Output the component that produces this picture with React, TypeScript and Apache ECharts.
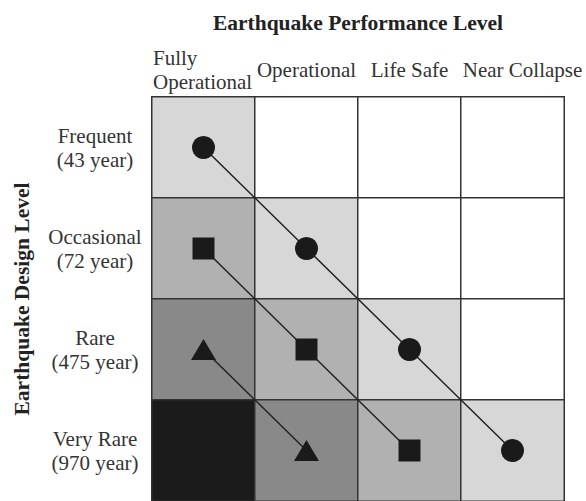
import React, { useEffect, useRef } from "react";
import * as echarts from "echarts";

const performanceLevels = ["Fully\nOperational", "Operational", "Life Safe", "Near Collapse"];
const designLevels = ["Frequent\n(43 year)", "Occasional\n(72 year)", "Rare\n(475 year)", "Very Rare\n(970 year)"];
const titleText = "Earthquake Performance Level";
const yNameText = "Earthquake Design Level";

// shade index for each cell: rows = design levels, columns = performance levels
const cellShades = [
  [1, 0, 0, 0],
  [2, 1, 0, 0],
  [3, 2, 1, 0],
  [4, 3, 2, 1],
];
const shadeColors = ["#ffffff", "#d7d7d7", "#b1b1b1", "#898989", "#1b1b1b"];

// [performance index, design index]
const circlePath = [[0, 0], [1, 1], [2, 2], [3, 3]];
const squarePath = [[0, 1], [1, 2], [2, 3]];
const trianglePath = [[0, 2], [1, 3]];

const FONT = "'Liberation Serif', 'Times New Roman', serif";

export default function App() {
  const ref = useRef<HTMLDivElement>(null);
  useEffect(() => {
    if (!ref.current) return;
    const chart = echarts.init(ref.current, null, { renderer: "svg" });
    const heatData: number[][] = [];
    cellShades.forEach((row, r) =>
      row.forEach((s, c) => {
        heatData.push([c, r, s]);
      })
    );
    const lineSeries = (data: number[][], symbol: string, size: any) => ({
      type: "line",
      data,
      symbol,
      symbolSize: size,
      showSymbol: true,
      z: 5,
      lineStyle: { color: "#222", width: 1.5 },
      itemStyle: { color: "#1a1a1a" },
      emphasis: { disabled: true },
    });
    chart.setOption({
      animation: false,
      grid: { left: 152, top: 97, width: 412, height: 411 },
      visualMap: {
        type: "piecewise",
        show: false,
        seriesIndex: 0,
        dimension: 2,
        pieces: shadeColors.map((c, i) => ({ value: i, color: c })),
      },
      xAxis: {
        type: "category",
        position: "top",
        data: performanceLevels,
        axisLine: { show: false },
        axisTick: { show: false },
        splitLine: { show: false },
        axisLabel: {
          interval: 0,
          margin: 27,
          fontSize: 21,
          lineHeight: 24,
          fontFamily: FONT,
          color: "#333",
          verticalAlign: "middle",
          formatter: (v: string) => {
            if (v.indexOf("\n") >= 0) {
              return v
                .split("\n")
                .map((p) => "{f|" + p + "}")
                .join("\n");
            }
            if (v === "Near Collapse") return "{n|" + v + "}";
            return v;
          },
          rich: {
            f: { width: 101, align: "left", fontSize: 21, lineHeight: 24, fontFamily: FONT, color: "#333" },
            n: { padding: [0, 0, 0, 20], fontSize: 21, lineHeight: 24, fontFamily: FONT, color: "#333" },
          },
        },
        name: titleText,
        nameLocation: "middle",
        nameGap: 74,
        nameTextStyle: {
          fontWeight: "bold",
          fontSize: 21.5,
          fontFamily: FONT,
          color: "#222",
          verticalAlign: "middle",
        },
      },
      yAxis: {
        type: "category",
        inverse: true,
        data: designLevels,
        axisLine: { show: false },
        axisTick: { show: false },
        splitLine: { show: false },
        axisLabel: {
          interval: 0,
          align: "center",
          margin: 57,
          fontSize: 21,
          lineHeight: 24,
          fontFamily: FONT,
          color: "#333",
          padding: [5, 0, 0, 0],
        },
        name: yNameText,
        nameLocation: "middle",
        nameGap: 130,
        nameRotate: 90,
        nameTextStyle: {
          fontWeight: "bold",
          fontSize: 21.5,
          fontFamily: FONT,
          color: "#222",
          verticalAlign: "middle",
        },
      },
      series: [
        {
          type: "heatmap",
          data: heatData,
          itemStyle: { borderColor: "#333", borderWidth: 1.5 },
          emphasis: { disabled: true },
          z: 1,
        },
        lineSeries(circlePath, "circle", 23),
        lineSeries(squarePath, "rect", 22),
        lineSeries(trianglePath, "triangle", [25, 21]),
      ],
    });
    return () => chart.dispose();
  }, []);
  return (
    <div
      ref={ref}
      style={{ position: "fixed", left: 0, top: 0, width: 586, height: 501, background: "#fff" }}
    />
  );
}
